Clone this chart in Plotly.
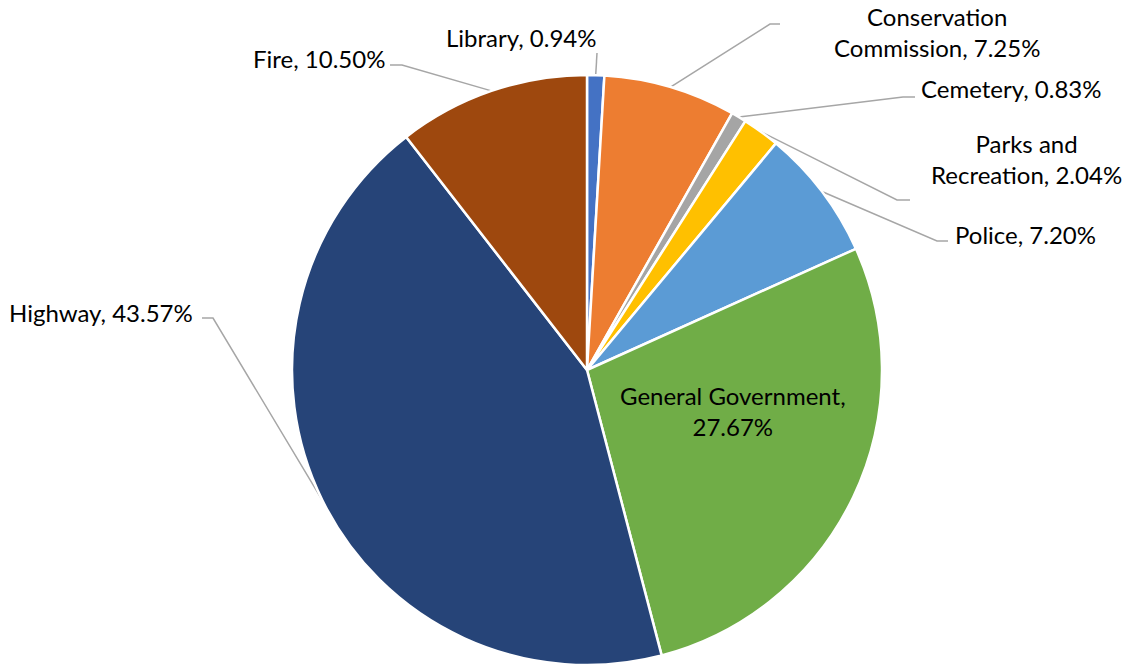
import math
import plotly.graph_objects as go

# Budget share by department, clockwise from 12 o'clock
departments = ["Library", "Conservation Commission", "Cemetery", "Parks and Recreation",
               "Police", "General Government", "Highway", "Fire"]
shares = [0.94, 7.25, 0.83, 2.04, 7.20, 27.67, 43.57, 10.50]
colors = ["#4472C4", "#ED7D31", "#A5A5A5", "#FFC000",
          "#5B9BD5", "#70AD47", "#264478", "#9E480E"]

# Label text (line breaks) per department
label_names = {
    "Conservation Commission": "Conservation<br>Commission",
    "Parks and Recreation": "Parks and<br>Recreation",
    "General Government": "General Government,<br>",
}

W, H = 1130, 669
CX, CY, R = 587, 370, 295   # pie centre and radius in pixels

# label placement: (x, y, xanchor, elbow, end) ; elbow/end are leader-line points
placement = {
    "Library": (521, 37, "center", None, (597, 53)),
    "Conservation Commission": (937, 32, "center", (770, 24), (780, 24)),
    "Cemetery": (919, 88, "left", (903, 97), (915, 97)),
    "Parks and Recreation": (1026, 159, "center", (897, 200), (910, 200)),
    "Police": (953, 234, "left", (937, 241), (948, 241)),
    "General Government": (733, 411, "center", None, None),
    "Highway": (195, 312, "right", (213, 318), (202, 318)),
    "Fire": (387, 58, "right", (402, 65), (390, 65)),
}

FONT = "Lato"
FSIZE = 24

fig = go.Figure()
fig.add_trace(go.Pie(
    labels=departments, values=shares, sort=False, direction="clockwise",
    marker=dict(colors=colors, line=dict(color="white", width=2.5)),
    textinfo="none", hoverinfo="label+percent", showlegend=False,
    domain=dict(x=[(CX - R) / W, (CX + R) / W],
                y=[(H - CY - R) / H, (H - CY + R) / H]),
))

total = sum(shares)
cum = 0.0
annotations = []
for name, val in zip(departments, shares):
    mid = (cum + val / 2) / total * 2 * math.pi
    cum += val
    sx = CX + R * math.sin(mid)
    sy = CY - R * math.cos(mid)
    lx, ly, anchor, elbow, end = placement[name]
    if end is not None:
        pts = [(sx, sy)] + ([elbow] if elbow else []) + [end]
        fig.add_trace(go.Scatter(
            x=[p[0] for p in pts], y=[p[1] for p in pts], mode="lines",
            line=dict(color="#A6A6A6", width=1.5), hoverinfo="skip", showlegend=False,
        ))
    if name == "General Government":
        text = f"{label_names[name]}{val:.2f}%"
    else:
        text = f"{label_names.get(name, name)}, {val:.2f}%"
    annotations.append(dict(
        x=lx, y=ly, xref="x", yref="y", text=text, showarrow=False,
        xanchor=anchor, yanchor="middle", align="center",
        font=dict(family=FONT, size=FSIZE, color="#000000"),
    ))

fig.update_layout(
    width=W, height=H, margin=dict(l=0, r=0, t=0, b=0),
    paper_bgcolor="white", plot_bgcolor="rgba(0,0,0,0)",
    xaxis=dict(range=[0, W], visible=False, fixedrange=True),
    yaxis=dict(range=[H, 0], visible=False, fixedrange=True),
    annotations=annotations,
)

fig.write_html("out.html")
